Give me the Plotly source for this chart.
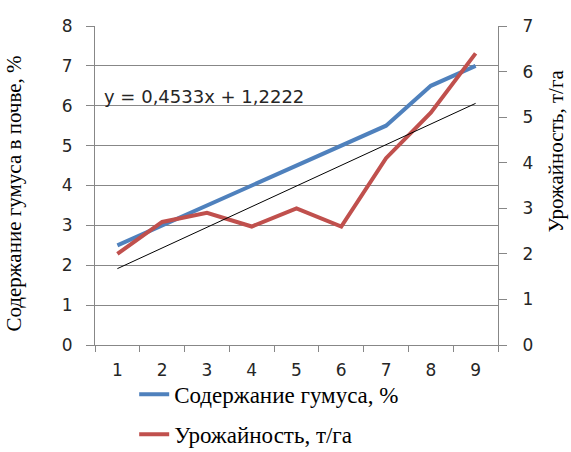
import numpy as np
import plotly.graph_objects as go

categories = ["1", "2", "3", "4", "5", "6", "7", "8", "9"]
humus = [2.5, 3.0, 3.5, 4.0, 4.5, 5.0, 5.5, 6.5, 7.0]
yield_t = [2.0, 2.7, 2.9, 2.6, 3.0, 2.6, 4.1, 5.1, 6.4]
left_ticks = [0, 1, 2, 3, 4, 5, 6, 7, 8]
right_ticks = [0, 1, 2, 3, 4, 5, 6, 7]

xs = np.arange(1, len(categories) + 1)
slope, intercept = np.polyfit(xs, yield_t, 1)
trend = slope * xs + intercept
eq_text = "y = " + f"{slope:.4f}".replace(".", ",") + "x + " + f"{intercept:.4f}".replace(".", ",")

BLUE = "#4F81BD"
RED = "#C0504D"
GRID = "#878787"
TXT = "#262626"
SANS = "DejaVu Sans"
SERIF = "Liberation Serif"

fig = go.Figure()
fig.add_trace(go.Scatter(x=categories, y=humus, mode="lines", name="Содержание гумуса, %",
                         line=dict(color=BLUE, width=4), legendgroup="a", yaxis="y"))
fig.add_trace(go.Scatter(x=categories, y=yield_t, mode="lines", name="Урожайность, т/га",
                         line=dict(color=RED, width=4), legendgroup="b", yaxis="y2"))
fig.add_trace(go.Scatter(x=categories, y=trend, mode="lines", showlegend=False,
                         line=dict(color="#000000", width=1), yaxis="y2"))

fig.update_layout(
    width=571, height=452,
    margin=dict(l=95, r=73, t=26, b=107, autoexpand=False),
    paper_bgcolor="white", plot_bgcolor="white",
    font=dict(family=SANS, size=17, color=TXT),
    xaxis=dict(type="category", range=[-0.5, len(categories) - 0.5],
               tickson="boundaries", ticks="outside", ticklen=6,
               tickcolor=GRID, showline=True, linecolor=GRID, linewidth=1,
               showgrid=False, ticklabelstandoff=10,
               tickfont=dict(family=SANS, size=17, color=TXT)),
    yaxis=dict(range=[0, 8], tickvals=left_ticks, ticks="outside", ticklen=8,
               tickcolor=GRID, showline=True, linecolor=GRID, showgrid=True,
               gridcolor=GRID, gridwidth=1, zeroline=False, ticklabelstandoff=10,
               tickfont=dict(family=SANS, size=17, color=TXT)),
    yaxis2=dict(range=[0, 7], tickvals=right_ticks, overlaying="y", side="right",
                ticks="outside", ticklen=8, tickcolor=GRID, showline=True,
                linecolor=GRID, showgrid=False, zeroline=False, ticklabelstandoff=12,
                tickfont=dict(family=SANS, size=17, color=TXT)),
    legend=dict(xref="container", yref="container", x=0.235, xanchor="left",
                y=0.175, yanchor="top", orientation="v",
                traceorder="grouped", tracegroupgap=7,
                font=dict(family=SERIF, size=23, color="#000000"),
                bgcolor="rgba(0,0,0,0)"),
    showlegend=True,
)

fig.add_annotation(text=eq_text, xref="paper", yref="paper", x=0.017, y=0.78,
                   xanchor="left", yanchor="middle", showarrow=False,
                   font=dict(family=SANS, size=18, color=TXT))
fig.add_annotation(text="Содержание гумуса в почве, %", xref="paper", yref="paper",
                   x=-0.2, y=0.476, xanchor="center", yanchor="middle", textangle=-90,
                   showarrow=False, font=dict(family=SERIF, size=21, color="#000000"))
fig.add_annotation(text="Урожайность, т/га", xref="paper", yref="paper", x=1.145, y=0.608,
                   xanchor="center", yanchor="middle", textangle=-90, showarrow=False,
                   font=dict(family=SERIF, size=21, color="#000000"))

fig.write_html("out.html")
